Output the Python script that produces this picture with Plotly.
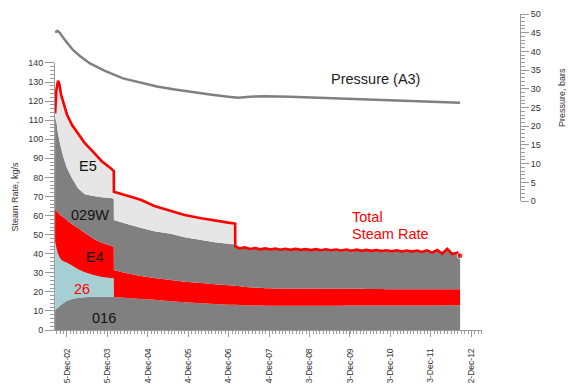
import plotly.graph_objects as go

# ---- sample dates shared by the stacked well series ----
DATES = [
    # start-up period
    "2002-08-20", "2002-09-01", "2002-09-15", "2002-09-29", "2002-10-12",
    "2002-11-01", "2002-12-05", "2003-01-20", "2003-03-15", "2003-05-15",
    "2003-08-01", "2003-10-15", "2004-01-01", "2004-02-01",
    # after well 26 shut in
    "2004-02-02", "2004-04-01", "2004-07-01", "2004-10-01", "2005-02-01",
    "2005-07-01", "2005-11-01", "2006-04-01", "2006-08-01", "2006-12-01",
    "2007-02-01",
    # after well E5 shut in
    "2007-02-02", "2007-03-15", "2007-05-01", "2007-06-15", "2007-08-01",
    "2007-09-15", "2007-11-01", "2007-12-15",
    "2008-02-01", "2008-03-15", "2008-05-01", "2008-06-15", "2008-08-01",
    "2008-09-15", "2008-11-01", "2008-12-15",
    "2009-02-01", "2009-03-15", "2009-05-01", "2009-06-15", "2009-08-01",
    "2009-09-15", "2009-11-01", "2009-12-15",
    "2010-02-01", "2010-03-15", "2010-05-01", "2010-06-15", "2010-08-01",
    "2010-09-15", "2010-11-01", "2010-12-15",
    "2011-02-01", "2011-03-15", "2011-05-01", "2011-06-15", "2011-08-01",
    "2011-09-15", "2011-11-01", "2011-12-15",
    "2012-02-01", "2012-03-15", "2012-05-01", "2012-06-15", "2012-08-01",
    "2012-08-25",
]

# ---- steam rate per well, kg/s (stacked bottom to top) ----
W016 = [
    10.5, 11.0, 11.8, 12.5, 13.2, 14.0, 15.3, 16.3, 16.9, 17.2, 17.4, 17.4, 17.3, 17.3,
    17.2, 17.0, 16.6, 16.3, 15.8, 15.1, 14.5, 14.0, 13.6, 13.3, 13.2,
    13.2, 13.1, 13.0, 12.9, 12.8, 12.8, 12.7, 12.7,
    12.7, 12.7, 12.7, 12.7, 12.7, 12.7, 12.7, 12.7,
    12.7, 12.7, 12.7, 12.7, 12.7, 12.7, 12.8, 12.8,
    12.8, 12.8, 12.8, 12.8, 12.8, 12.8, 12.8, 12.8,
    12.8, 12.8, 12.8, 12.8, 12.8, 12.9, 12.9, 12.9,
    12.9, 12.9, 13.0, 13.0, 13.0, 13.0,
]
W26 = [35.8, 32.0, 28.2, 25.7, 23.8, 22.0, 19.9, 17.5, 14.9, 13.1, 11.5, 10.4, 10.0, 9.8]
WE4 = [
    17.2, 19.5, 21.5, 22.5, 23.0, 23.3, 22.3, 21.7, 21.7, 20.7, 19.0, 17.9, 17.0, 16.6,
    14.3, 13.5, 12.7, 12.0, 11.4, 11.1, 10.8, 10.6, 10.4, 10.2, 10.0,
    10.0, 9.8, 9.6, 9.5, 9.4, 9.3, 9.2, 9.2,
    9.1, 9.1, 9.1, 9.1, 9.0, 9.0, 9.0, 9.0,
    9.0, 9.0, 8.9, 8.9, 8.9, 8.9, 8.8, 8.8,
    8.8, 8.8, 8.7, 8.7, 8.7, 8.7, 8.6, 8.6,
    8.6, 8.6, 8.6, 8.5, 8.5, 8.5, 8.5, 8.4,
    8.4, 8.4, 8.4, 8.3, 8.3, 8.3,
]
W029W = [
    48.0, 46.5, 41.5, 38.3, 35.5, 31.7, 27.5, 24.0, 20.8, 20.2, 22.3, 23.9, 24.9, 25.3,
    26.2, 26.1, 25.7, 25.3, 24.6, 24.2, 23.3, 22.6, 22.0, 21.7, 21.6,
    20.6, 19.9, 20.7, 20.1, 20.8, 20.2, 20.9, 20.3,
    20.9, 20.3, 20.8, 20.2, 20.8, 20.3, 20.7, 20.2,
    20.7, 20.1, 20.7, 20.2, 20.6, 20.1, 20.6, 20.0,
    20.5, 19.9, 20.5, 20.0, 20.4, 19.9, 20.4, 19.9,
    20.4, 19.8, 20.3, 19.8, 20.4, 19.5, 20.4, 19.3,
    20.6, 18.7, 21.2, 18.5, 19.2, 17.6,
]
WE5 = [
    2.1, 17.0, 27.7, 29.5, 28.0, 28.5, 28.0, 28.0, 28.5, 26.8, 23.1, 18.9, 15.8, 14.3,
    14.8, 14.9, 15.0, 14.7, 13.2, 11.9, 11.7, 11.4, 11.3, 11.1, 11.0,
]

# ---- wellhead pressure (A3), bars ----
P_DATES = [
    "2002-08-20", "2002-09-10", "2002-10-03", "2002-11-08", "2003-01-28",
    "2003-04-01", "2003-07-01", "2003-11-13", "2004-04-24", "2004-09-25",
    "2005-02-25", "2005-08-07", "2005-12-20", "2006-06-19", "2006-11-29",
    "2007-02-27", "2007-06-15", "2007-10-28", "2008-06-11", "2009-06-07",
    "2010-09-01", "2011-08-29", "2012-08-25",
]
PRESSURE = [
    45.1, 45.5, 44.9, 43.4, 40.4,
    38.8, 36.8, 34.8, 32.8, 31.6,
    30.6, 29.8, 29.2, 28.5, 27.9,
    27.6, 27.9, 28.0, 27.9, 27.5,
    27.1, 26.7, 26.3,
]

# ---- x-axis tick labels ----
TICK_DATES = [
    "2002-12-05", "2003-12-05", "2004-12-04", "2005-12-04", "2006-12-04",
    "2007-12-04", "2008-12-03", "2009-12-03", "2010-12-03", "2011-12-03",
    "2012-12-02",
]
TICK_LABELS = [
    "5-Dec-02", "5-Dec-03", "4-Dec-04", "4-Dec-05", "4-Dec-06",
    "4-Dec-07", "3-Dec-08", "3-Dec-09", "3-Dec-10", "3-Dec-11",
    "2-Dec-12",
]

RED = "#ff0000"
GRAY = "#808080"
LIGHT = "#e6e6e6"
BLUE = "#a6cfd4"
AXIS = "#9a9a9a"
FONT = "Liberation Sans, Arial, sans-serif"

layers = [
    ("016", W016, GRAY),
    ("26", W26, BLUE),
    ("E4", WE4, RED),
    ("029W", W029W, GRAY),
    ("E5", WE5, LIGHT),
]

fig = go.Figure()
for name, vals, color in layers:
    fig.add_trace(go.Scatter(
        x=DATES[:len(vals)], y=vals, name=name,
        stackgroup="wells", mode="none",
        fillcolor=color, line=dict(width=0),
    ))

# total steam rate = sum of all wells on line at each date
total = []
for i in range(len(DATES)):
    s = 0.0
    for _, vals, _ in layers:
        if i < len(vals):
            s += vals[i]
    total.append(round(s, 2))

end_dot = [0] * (len(total) - 1) + [6]
fig.add_trace(go.Scatter(
    x=DATES, y=total, mode="lines+markers", name="Total Steam Rate",
    line=dict(color=RED, width=2.6),
    marker=dict(color=RED, size=end_dot),
))

fig.add_trace(go.Scatter(
    x=P_DATES, y=PRESSURE, mode="lines", name="Pressure (A3)",
    line=dict(color=GRAY, width=2.5), xaxis="x", yaxis="y2",
))

# plot area spans 55..530 px; x-axis ends at 482 px, pressure axis sits at 520 px
fig.update_layout(
    width=568, height=387,
    margin=dict(l=55, r=38, t=14, b=57, autoexpand=False),
    paper_bgcolor="white", plot_bgcolor="rgba(0,0,0,0)",
    showlegend=False,
    font=dict(family=FONT, size=9, color="#333333"),
    xaxis=dict(
        type="date", domain=[0, 0.899], automargin=False,
        range=["2002-08-19", "2013-03-11"],
        tickmode="array", tickvals=TICK_DATES, ticktext=TICK_LABELS,
        tickangle=-90, tickfont=dict(size=8.5),
        ticks="outside", ticklen=6, tickcolor=AXIS,
        showline=True, linecolor=AXIS, linewidth=1,
        showgrid=False, zeroline=False,
        ticklabelstandoff=8,
        minor=dict(ticks="outside", ticklen=3, tickcolor=AXIS,
                   dtick="M1", tick0="2002-08-05", showgrid=False),
    ),
    yaxis=dict(
        domain=[0, 0.845], range=[0, 140], dtick=10, automargin=False,
        ticks="outside", ticklen=9, tickcolor=AXIS,
        showline=True, linecolor=AXIS, linewidth=1,
        showgrid=False, zeroline=False, tickfont=dict(size=9),
        minor=dict(ticks="outside", ticklen=4, tickcolor=AXIS, dtick=2,
                   showgrid=False),
    ),
    yaxis2=dict(
        domain=[0.408, 1.0], range=[0, 50], dtick=5, automargin=False,
        anchor="free", position=0.979, side="right",
        ticks="outside", ticklen=8, tickcolor=AXIS,
        showline=True, linecolor=AXIS, linewidth=1,
        showgrid=False, zeroline=False, tickfont=dict(size=9),
        minor=dict(ticks="outside", ticklen=4, tickcolor=AXIS, dtick=1,
                   showgrid=False),
    ),
)

notes = [
    dict(x="2003-06-15", y=86.1, text="E5", color="#111111"),
    dict(x="2003-07-01", y=60.3, text="029W", color="#111111"),
    dict(x="2003-08-15", y=38.4, text="E4", color="#111111"),
    dict(x="2003-04-17", y=21.5, text="26", color=RED),
    dict(x="2003-11-04", y=6.3, text="016", color="#111111"),
]
for n in notes:
    fig.add_annotation(x=n["x"], y=n["y"], xref="x", yref="y", text=n["text"],
                       showarrow=False, font=dict(size=14.5, color=n["color"], family=FONT))

fig.add_annotation(x="2010-07-27", y=32.6, xref="x", yref="y2", text="Pressure (A3)",
                   showarrow=False, font=dict(size=14.5, color="#222222", family=FONT))
fig.add_annotation(x="2009-12-04", y=59.0, xref="x", yref="y", text="Total",
                   xanchor="left", showarrow=False, font=dict(size=14.5, color=RED, family=FONT))
fig.add_annotation(x="2009-12-04", y=50.3, xref="x", yref="y", text="Steam Rate",
                   xanchor="left", showarrow=False, font=dict(size=14.5, color=RED, family=FONT))

# axis titles
fig.add_annotation(x=-0.084, y=0.4225, xref="paper", yref="paper", text="Steam Rate, kg/s",
                   xanchor="center", yanchor="middle", textangle=-90, showarrow=False,
                   font=dict(size=9, color="#333333", family=FONT))
fig.add_annotation(x=1.067, y=0.737, xref="paper", yref="paper", text="Pressure, bars",
                   xanchor="center", yanchor="middle", textangle=-90, showarrow=False,
                   font=dict(size=9, color="#333333", family=FONT))

fig.write_html("out.html")
